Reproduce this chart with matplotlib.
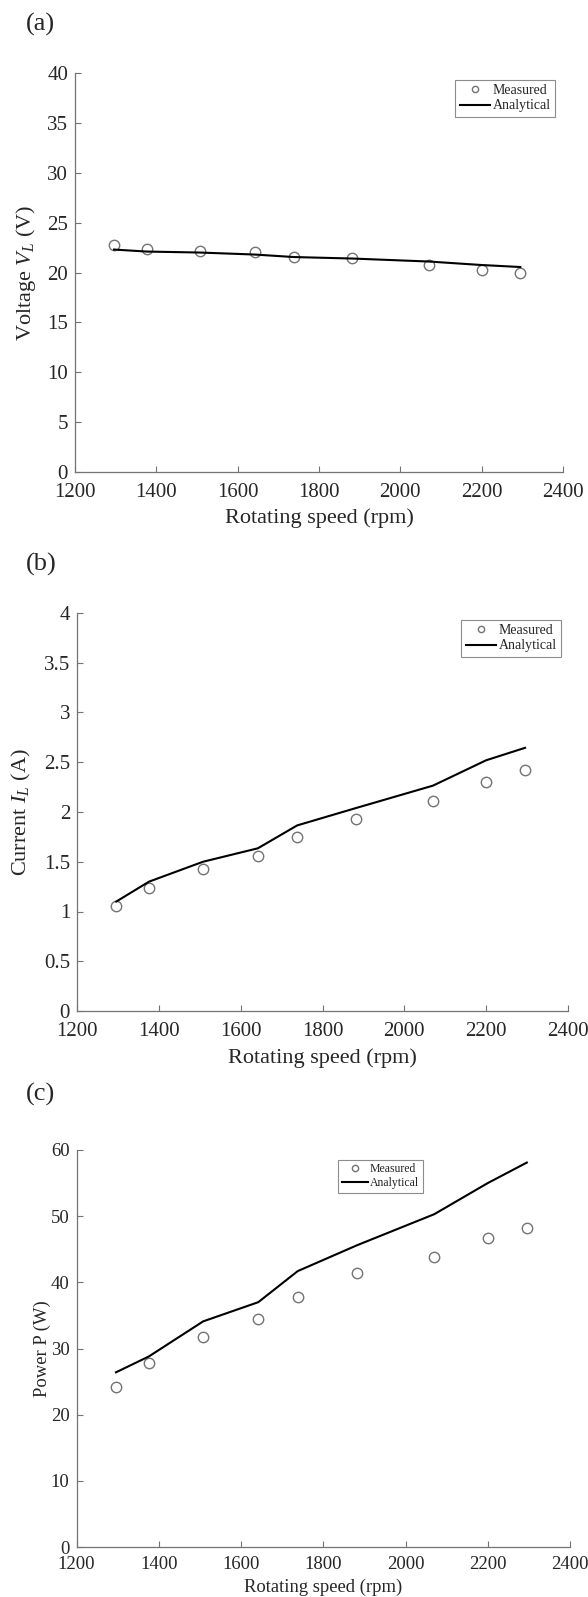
import matplotlib
matplotlib.use("Agg")
import matplotlib.pyplot as plt

plt.rcParams['font.family'] = ['Liberation Serif', 'DejaVu Serif']
plt.rcParams['mathtext.fontset'] = 'custom'
plt.rcParams['mathtext.rm'] = 'Liberation Serif'
plt.rcParams['mathtext.it'] = 'Liberation Serif:italic'

# ---- data ----
speed = [1296, 1376, 1508, 1642, 1738, 1882, 2070, 2200, 2295]

voltage_measured = [22.8, 22.4, 22.2, 22.1, 21.6, 21.45, 20.8, 20.3, 19.9]
voltage_analytical = [22.3, 22.1, 22.0, 21.8, 21.55, 21.4, 21.1, 20.75, 20.55]

current_measured = [1.06, 1.24, 1.43, 1.56, 1.75, 1.93, 2.11, 2.30, 2.42]
current_analytical = [1.10, 1.30, 1.50, 1.635, 1.865, 2.04, 2.265, 2.52, 2.645]

power_measured = [24.2, 27.8, 31.7, 34.5, 37.8, 41.4, 43.9, 46.7, 48.2]
power_analytical = [26.4, 28.8, 34.1, 37.0, 41.7, 45.6, 50.3, 55.0, 58.1]

xticks = [1200, 1400, 1600, 1800, 2000, 2200, 2400]
yticks_v = [0, 5, 10, 15, 20, 25, 30, 35, 40]
yticks_i = [0, 0.5, 1, 1.5, 2, 2.5, 3, 3.5, 4]
yticks_p = [0, 10, 20, 30, 40, 50, 60]

W, H = 588, 1597
fig = plt.figure(figsize=(W / 100, H / 100), dpi=100)

spine_col = '0.45'
text_col = '0.15'


def make_axes(left, right, top, bottom):
    return fig.add_axes([left / W, (H - bottom) / H, (right - left) / W, (bottom - top) / H])


panels = [
    dict(box=(75, 563, 73, 472), ym=voltage_measured, ya=voltage_analytical, ylim=(0, 40),
         yticks=yticks_v, ylabel='Voltage $V_L$ (V)', tick_fs=15, lab_fs=16, leg_fs=10,
         leg=dict(loc='upper right', bbox_to_anchor=(0.984, 0.982)), xpad=8,
         ylab_x=-0.100, xlab_y=-0.115, tag='(a)', tag_y=24, ytl=[str(v) for v in yticks_v]),
    dict(box=(77, 568, 613, 1011), ym=current_measured, ya=current_analytical, ylim=(0, 4),
         yticks=yticks_i, ylabel='Current $I_L$ (A)', tick_fs=15, lab_fs=16, leg_fs=10,
         leg=dict(loc='upper right', bbox_to_anchor=(0.986, 0.982)), xpad=8,
         ylab_x=-0.114, xlab_y=-0.118, tag='(b)', tag_y=564,
         ytl=['0', '0.5', '1', '1.5', '2', '2.5', '3', '3.5', '4']),
    dict(box=(76.5, 570, 1150, 1547), ym=power_measured, ya=power_analytical, ylim=(0, 60),
         yticks=yticks_p, ylabel='Power P (W)', tick_fs=13.5, lab_fs=13.4, leg_fs=8.5,
         leg=dict(loc='upper left', bbox_to_anchor=(0.53, 0.975)), xpad=6.5,
         ylab_x=-0.069, xlab_y=-0.102, tag='(c)', tag_y=1094, ytl=[str(v) for v in yticks_p]),
]

for p in panels:
    ax = make_axes(*p['box'])
    ax.plot(speed, p['ym'], linestyle='none', marker='o', markersize=7.5,
            markerfacecolor='none', markeredgecolor='0.45', markeredgewidth=1.0,
            label='Measured')
    ax.plot(speed, p['ya'], color='black', linewidth=1.5, label='Analytical')
    ax.set_xlim(1200, 2400)
    ax.set_ylim(*p['ylim'])
    ax.set_xticks(xticks)
    ax.set_xticklabels([str(v) for v in xticks])
    ax.set_yticks(p['yticks'])
    ax.set_yticklabels(p['ytl'])
    for s in ['top', 'right']:
        ax.spines[s].set_visible(False)
    for s in ['left', 'bottom']:
        ax.spines[s].set_color(spine_col)
        ax.spines[s].set_linewidth(0.9)
    ax.tick_params(direction='in', length=4, width=0.8, color=spine_col,
                   labelcolor=text_col, labelsize=p['tick_fs'])
    ax.tick_params(axis='x', pad=p['xpad'])
    ax.tick_params(axis='y', pad=5)
    ax.set_xlabel('Rotating speed (rpm)', fontsize=p['lab_fs'], color=text_col)
    ax.set_ylabel(p['ylabel'], fontsize=p['lab_fs'], color=text_col)
    ax.xaxis.set_label_coords(0.5, p['xlab_y'])
    ax.xaxis.label.set_va('center')
    ax.yaxis.set_label_coords(p['ylab_x'], 0.5)
    ax.yaxis.label.set_va('center')
    leg = ax.legend(fontsize=p['leg_fs'], frameon=True, fancybox=False, framealpha=1,
                    edgecolor='0.55', handlelength=2.2, handletextpad=0.2,
                    borderpad=0.3, labelspacing=0.15, borderaxespad=0, markerscale=0.6,
                    **p['leg'])
    leg.get_frame().set_linewidth(0.8)
    for t in leg.get_texts():
        t.set_color(text_col)
    fig.text(25.5 / W, 1 - p['tag_y'] / H, p['tag'], fontsize=19, ha='left', va='center',
             color=text_col)

fig.savefig('out.png', dpi=100, facecolor='white')
